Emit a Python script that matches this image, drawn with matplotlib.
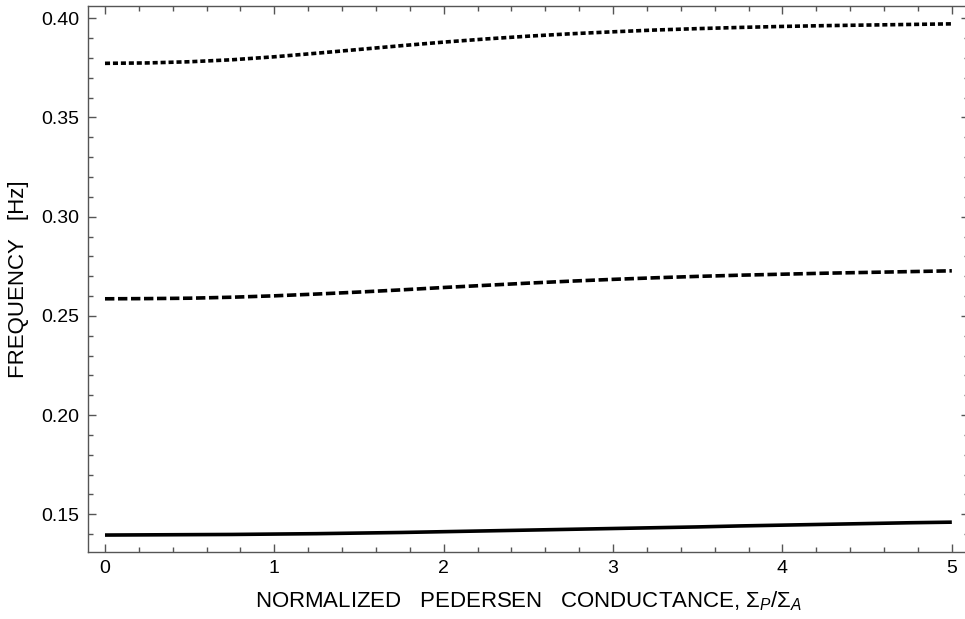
import matplotlib
matplotlib.use("Agg")
import matplotlib.pyplot as plt
from matplotlib.ticker import MultipleLocator, FormatStrFormatter

plt.rcParams['font.family'] = ['Liberation Sans', 'DejaVu Sans']
plt.rcParams['mathtext.fontset'] = 'custom'
plt.rcParams['mathtext.rm'] = 'Liberation Sans'
plt.rcParams['mathtext.it'] = 'Liberation Sans:italic'

# normalized Pedersen conductance
sigma_ratio = [0.0, 0.25, 0.5, 0.75, 1.0, 1.25, 1.5, 1.75, 2.0, 2.25, 2.5,
               2.75, 3.0, 3.25, 3.5, 3.75, 4.0, 4.25, 4.5, 4.75, 5.0]

# eigenfrequencies [Hz] of the three lowest modes
freq_mode1 = [0.1395, 0.1396, 0.1397, 0.1398, 0.1400, 0.1402, 0.1405,
              0.1408, 0.1412, 0.1416, 0.1420, 0.1424, 0.1428, 0.1432,
              0.1436, 0.1441, 0.1445, 0.1449, 0.1453, 0.1457, 0.1460]
freq_mode2 = [0.2586, 0.2587, 0.2589, 0.2594, 0.2601, 0.2610, 0.2620,
              0.2631, 0.2643, 0.2654, 0.2665, 0.2675, 0.2684, 0.2692,
              0.2699, 0.2705, 0.2710, 0.2715, 0.2719, 0.2723, 0.2727]
freq_mode3 = [0.3773, 0.3775, 0.3781, 0.3791, 0.3806, 0.3824, 0.3843,
              0.3862, 0.3880, 0.3896, 0.3910, 0.3922, 0.3932, 0.3941,
              0.3948, 0.3954, 0.3959, 0.3963, 0.3966, 0.3969, 0.3972]

fig = plt.figure(figsize=(9.65, 6.19), dpi=100)
ax = fig.add_axes([0.0909, 0.1087, 0.913, 0.8816])

lw = 2.6
ax.plot(sigma_ratio, freq_mode1, color='black', lw=lw, solid_capstyle='butt')
ax.plot(sigma_ratio, freq_mode2, color='black', lw=lw, dashes=(2.6, 1.0))
ax.plot(sigma_ratio, freq_mode3, color='black', lw=lw, dashes=(1.4, 0.8))

ax.set_xlim(-0.102, 5.10)
ax.set_ylim(0.1311, 0.4062)

ax.xaxis.set_major_locator(MultipleLocator(1))
ax.xaxis.set_minor_locator(MultipleLocator(0.2))
ax.yaxis.set_major_locator(MultipleLocator(0.05))
ax.yaxis.set_minor_locator(MultipleLocator(0.01))
ax.yaxis.set_major_formatter(FormatStrFormatter('%.2f'))

frame = '#555555'
for side in ['left', 'bottom', 'top']:
    ax.spines[side].set_color(frame)
    ax.spines[side].set_linewidth(1.0)
ax.spines['right'].set_visible(False)

ax.tick_params(which='both', direction='in', top=True, right=True,
               color=frame, width=1.0, labelsize=14, labelcolor='black')
ax.tick_params(which='major', length=6, pad=6)
ax.tick_params(which='minor', length=3.5)

ax.set_xlabel(r'NORMALIZED   PEDERSEN   CONDUCTANCE, $\Sigma_P/\Sigma_A$',
              fontsize=16, labelpad=9)
ax.set_ylabel('FREQUENCY   [Hz]', fontsize=16, labelpad=9)

fig.savefig('out.png', dpi=100)
